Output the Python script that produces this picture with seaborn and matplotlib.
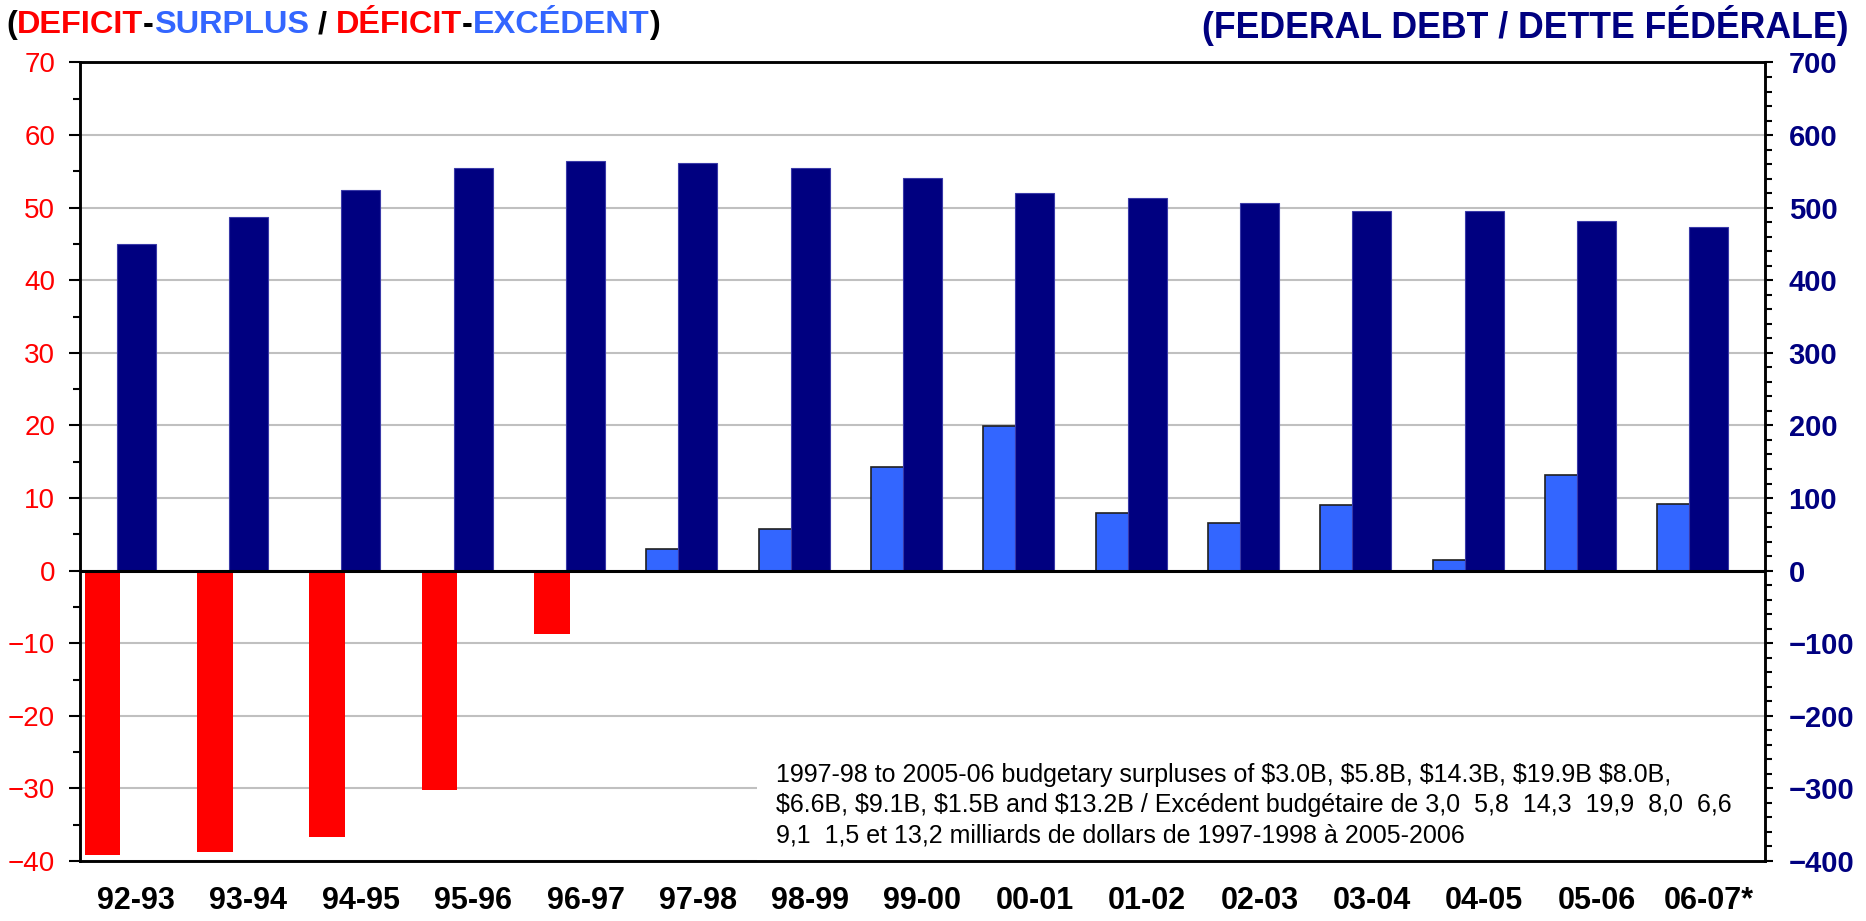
import numpy as np
import pandas as pd
import matplotlib
matplotlib.use("Agg")
import matplotlib.pyplot as plt
import seaborn as sns
from matplotlib.ticker import MultipleLocator
from matplotlib.patches import Rectangle

# ---------------- data ----------------
categories = ["92-93", "93-94", "94-95", "95-96", "96-97", "97-98", "98-99", "99-00",
              "00-01", "01-02", "02-03", "03-04", "04-05", "05-06", "06-07*"]
balance = [-39.2, -38.8, -36.7, -30.2, -8.7, 3.0, 5.8, 14.3, 19.9, 8.0, 6.6, 9.1, 1.5, 13.2, 9.2]
debt = [450, 487, 524, 555, 564, 562, 555, 541, 520, 513, 506, 496, 496, 482, 473]
left_ticks = [-40, -30, -20, -10, 0, 10, 20, 30, 40, 50, 60, 70]
right_ticks = [-400, -300, -200, -100, 0, 100, 200, 300, 400, 500, 600, 700]
note_lines = [
    "1997-98 to 2005-06 budgetary surpluses of $3.0B, $5.8B, $14.3B, $19.9B $8.0B,",
    "$6.6B, $9.1B, $1.5B and $13.2B / Excédent budgétaire de 3,0  5,8  14,3  19,9  8,0  6,6",
    "9,1  1,5 et 13,2 milliards de dollars de 1997-1998 à 2005-2006",
]
left_title = [("(", "black"), ("DEFICIT", "#FF0000"), ("-", "black"), ("SURPLUS", "#3366FF"),
              (" / ", "black"), ("DÉFICIT", "#FF0000"), ("-", "black"), ("EXCÉDENT", "#3366FF"),
              (")", "black")]
right_title = "(FEDERAL DEBT / DETTE FÉDÉRALE)"

RED, BLUE, NAVY = "#FF0000", "#3366FF", "#000080"

sns.set_theme(style="white")
plt.rcParams["font.family"] = ["Liberation Sans", "DejaVu Sans"]

W, H = 1866, 921
fig = plt.figure(figsize=(W / 100, H / 100), dpi=100)
ax = fig.add_axes([80 / W, (H - 861) / H, (1765 - 80) / W, (861 - 62.5) / H])
ax2 = ax.twinx()

idx = np.arange(len(categories))
BAL_OFFSET = -0.30
df = pd.DataFrame({
    "pos": idx + BAL_OFFSET,
    "balance": balance,
    "kind": np.where(np.array(balance) < 0, "Deficit", "Surplus"),
})
sns.barplot(data=df[df.kind == "Deficit"], x="pos", y="balance", native_scale=True,
            width=0.317, color=RED, saturation=1, linewidth=0, ax=ax, errorbar=None)
sns.barplot(data=df[df.kind == "Surplus"], x="pos", y="balance", native_scale=True,
            width=0.317, color=BLUE, saturation=1, edgecolor="#202020", linewidth=1.2,
            ax=ax, errorbar=None)

df2 = pd.DataFrame({"pos": idx, "debt": debt})
sns.barplot(data=df2, x="pos", y="debt", native_scale=True, width=0.345, color=NAVY,
            saturation=1, edgecolor="#3a3aa8", linewidth=0.8, ax=ax2, errorbar=None)

ax.set_xlim(-0.5, len(categories) - 0.5)
ax2.set_xlim(-0.5, len(categories) - 0.5)
ax.set_ylim(left_ticks[0], left_ticks[-1])
ax2.set_ylim(right_ticks[0], right_ticks[-1])

ax.set_yticks(left_ticks)
ax.yaxis.set_minor_locator(MultipleLocator(5))
ax2.set_yticks(right_ticks)
ax2.yaxis.set_minor_locator(MultipleLocator(20))

ax.set_xticks(idx)
ax.set_xticklabels(categories, fontsize=22, fontweight="bold", color="black")
ax.tick_params(axis="x", length=0, pad=18)

ax.tick_params(axis="y", which="major", left=True, length=8, width=1.5, color="black",
               labelcolor=RED, labelsize=20, pad=10, direction="out")
ax.tick_params(axis="y", which="minor", left=True, length=5, width=1.5, color="black",
               direction="out")
ax2.tick_params(axis="y", which="major", right=True, length=6, width=1.5, color="black",
                labelcolor=NAVY, labelsize=21, pad=11, direction="out")
ax2.tick_params(axis="y", which="minor", right=True, length=5, width=1.5, color="black",
                direction="out")
for lab in ax2.get_yticklabels():
    lab.set_fontweight("bold")

ax.yaxis.grid(True, which="major", color="#c0c0c0", linewidth=1.5)
ax.xaxis.grid(False)
ax.set_axisbelow(True)

for a in (ax, ax2):
    a.set_xlabel("")
    a.set_ylabel("")
    for s in a.spines.values():
        s.set_visible(True)
        s.set_color("black")
        s.set_linewidth(1.8)

ax2.axhline(0, color="black", linewidth=2.2, zorder=5)

# annotation box and text
ax.add_patch(Rectangle((0.402, 0.0), 0.598, 0.14, transform=ax.transAxes,
                       facecolor="white", edgecolor="none", zorder=1.5))
for i, line in enumerate(note_lines):
    fig.text(776 / W, 1 - (775 + 30 * i) / H, line, fontsize=18, va="center",
             ha="left", color="black", parse_math=False)

# titles
prev = fig.text(6 / W, 1 - 25 / H, left_title[0][0], color=left_title[0][1],
                fontsize=23.4, fontweight="bold", va="center", ha="left")
for txt, col in left_title[1:]:
    prev = ax.annotate(txt, xy=(1, 0), xycoords=prev, va="bottom", ha="left",
                       color=col, fontsize=23.4, fontweight="bold")
fig.text(1848 / W, 1 - 25 / H, right_title, color=NAVY, fontsize=25.7,
         fontweight="bold", va="center", ha="right")

fig.savefig("out.png", dpi=100, facecolor="white")
